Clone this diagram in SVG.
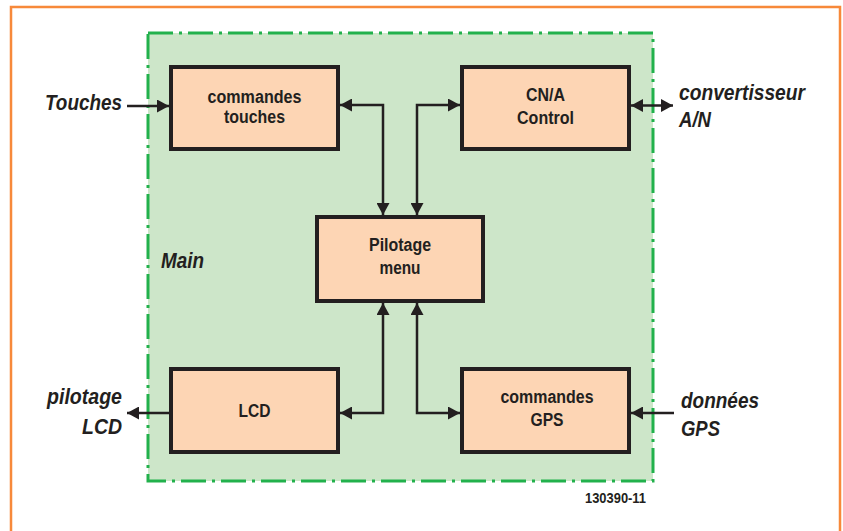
<svg xmlns="http://www.w3.org/2000/svg" width="843" height="531" viewBox="0 0 843 531">
<style>
.box{fill:#fdd5b4;stroke:#231f20;stroke-width:4}
.bt{font-family:"Liberation Sans",Arial,sans-serif;font-weight:bold;font-size:18px;fill:#231f20;text-anchor:middle}
.lb{font-family:"Liberation Sans",Arial,sans-serif;font-weight:bold;font-style:italic;font-size:22px;fill:#231f20}
.cn{fill:none;stroke:#231f20;stroke-width:2.5}
</style>
<defs>
<marker id="ah" markerUnits="userSpaceOnUse" markerWidth="12" markerHeight="13" refX="12" refY="6.5" orient="auto-start-reverse" viewBox="0 0 12 13">
<path d="M0,0 L12,6.5 L0,13 z" fill="#231f20"/>
</marker>
</defs>
<rect x="11" y="7" width="829" height="540" fill="#ffffff" stroke="#f7893a" stroke-width="2.5"/>
<g id="main">
<rect x="148" y="33" width="505" height="448" fill="#cde6c9" stroke="#22b14c" stroke-width="3" stroke-dasharray="25 6 3 6"/>
<text class="lb" x="161" y="268" textLength="43" lengthAdjust="spacingAndGlyphs">Main</text>
</g>
<g id="connectors">
<path class="cn" d="M127,106 H169" marker-end="url(#ah)"/>
<path class="cn" d="M340,105 H383 V215" marker-start="url(#ah)" marker-end="url(#ah)"/>
<path class="cn" d="M417,215 V105 H460" marker-start="url(#ah)" marker-end="url(#ah)"/>
<path class="cn" d="M631,105.5 H673" marker-start="url(#ah)" marker-end="url(#ah)"/>
<path class="cn" d="M383,303 V413 H340" marker-start="url(#ah)" marker-end="url(#ah)"/>
<path class="cn" d="M417,303 V413 H460" marker-start="url(#ah)" marker-end="url(#ah)"/>
<path class="cn" d="M169,413 H127" marker-end="url(#ah)"/>
<path class="cn" d="M674,413 H631" marker-end="url(#ah)"/>
</g>
<g id="commandes-touches">
<rect class="box" x="171" y="67" width="167" height="82"/>
<text class="bt" x="254.5" y="103" textLength="94" lengthAdjust="spacingAndGlyphs">commandes</text>
<text class="bt" x="254.5" y="123" textLength="61" lengthAdjust="spacingAndGlyphs">touches</text>
</g>
<g id="cna-control">
<rect class="box" x="462" y="67" width="167" height="82"/>
<text class="bt" x="545.5" y="101" textLength="39" lengthAdjust="spacingAndGlyphs">CN/A</text>
<text class="bt" x="545.5" y="124" textLength="57" lengthAdjust="spacingAndGlyphs">Control</text>
</g>
<g id="pilotage-menu">
<rect class="box" x="317" y="217" width="166" height="84"/>
<text class="bt" x="400" y="251" textLength="62" lengthAdjust="spacingAndGlyphs">Pilotage</text>
<text class="bt" x="400" y="274" textLength="41" lengthAdjust="spacingAndGlyphs">menu</text>
</g>
<g id="lcd">
<rect class="box" x="171" y="369" width="167" height="83"/>
<text class="bt" x="254.5" y="417" textLength="32" lengthAdjust="spacingAndGlyphs">LCD</text>
</g>
<g id="commandes-gps">
<rect class="box" x="462" y="369" width="167" height="83"/>
<text class="bt" x="547" y="403" textLength="93" lengthAdjust="spacingAndGlyphs">commandes</text>
<text class="bt" x="547" y="426" textLength="33" lengthAdjust="spacingAndGlyphs">GPS</text>
</g>
<g id="touches">
<text class="lb" x="45" y="110" textLength="77" lengthAdjust="spacingAndGlyphs">Touches</text>
</g>
<g id="convertisseur">
<text class="lb" x="679" y="100" textLength="126" lengthAdjust="spacingAndGlyphs">convertisseur</text>
<text class="lb" x="679" y="127" textLength="32" lengthAdjust="spacingAndGlyphs">A/N</text>
</g>
<g id="pilotage-lcd">
<text class="lb" x="47" y="404" textLength="75" lengthAdjust="spacingAndGlyphs">pilotage</text>
<text class="lb" x="82" y="434" textLength="40" lengthAdjust="spacingAndGlyphs">LCD</text>
</g>
<g id="donnees-gps">
<text class="lb" x="681" y="408" textLength="78" lengthAdjust="spacingAndGlyphs">données</text>
<text class="lb" x="681" y="436" textLength="39" lengthAdjust="spacingAndGlyphs">GPS</text>
</g>
<text x="585" y="503" textLength="61" lengthAdjust="spacingAndGlyphs" style="font-family:'Liberation Sans',Arial,sans-serif;font-weight:bold;font-size:15px;fill:#231f20">130390-11</text>
</svg>
